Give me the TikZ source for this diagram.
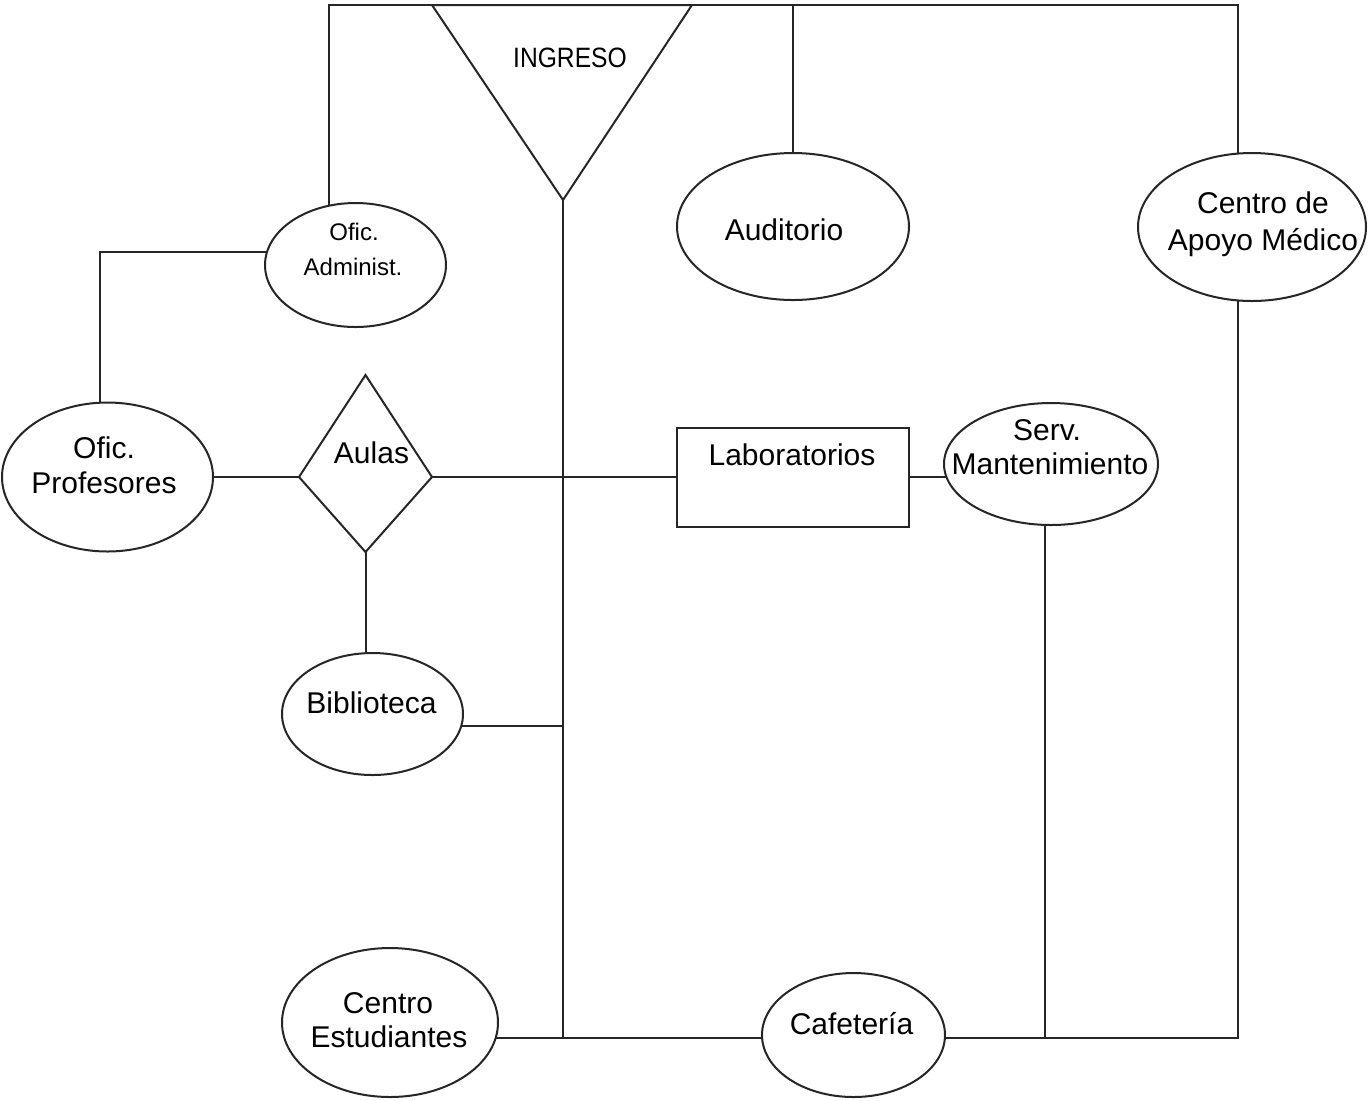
\documentclass[tikz,border=0pt]{standalone}
\usepackage{fontspec}
\setmainfont{Liberation Sans}
\usetikzlibrary{shapes.geometric}
\pgfdeclarelayer{background}
\pgfsetlayers{background,main}

\begin{document}
\begin{tikzpicture}[x=0.5pt,y=-0.5pt,
  lc/.style={draw=black!85, line width=1pt},
  blob/.style={lc, ellipse, fill=white, inner sep=0pt},
  lbl/.style={inner sep=0pt, anchor=base, text=black, font=\fontsize{15}{18}\selectfont},
  small/.style={lbl, font=\fontsize{12}{14}\selectfont}]

\useasboundingbox (0,0) rectangle (1371,1100);

% corners and junctions of the frame
\coordinate (tl) at (329,5);
\coordinate (tr) at (1238,5);
\coordinate (br) at (1238,1038);
\coordinate (cb) at (563,1038);
\coordinate (bj) at (563,726);
\coordinate (sv) at (1045,1038);
\coordinate (pj) at (100,252);

% entrance triangle
\coordinate (ing-l) at (432,5);
\coordinate (ing-r) at (692,5);
\coordinate (ing-a) at (563,200);
\draw[lc, fill=white] (ing-l) -- (ing-r) -- (ing-a) -- cycle;
\node[lbl, font=\fontsize{14}{16}\selectfont, xscale=0.88] (ing-t) at (570,67) {INGRESO};

% areas
\node[blob, minimum width=90.5pt, minimum height=62pt] (adm) at (355.5,265) {};
\node[small] (adm-t1) at (354,240) {Ofic.};
\node[small] (adm-t2) at (353,275) {Administ.};

\node[blob, minimum width=116pt, minimum height=73.5pt] (aud) at (793,226.5) {};
\node[lbl] (aud-t) at (784,240) {Auditorio};

\node[blob, minimum width=114pt, minimum height=74pt] (med) at (1252,227) {};
\node[lbl] (med-t1) at (1263,213) {Centro de};
\node[lbl] (med-t2) at (1263,250) {Apoyo Médico};

\node[blob, minimum width=105.5pt, minimum height=74.5pt] (prof) at (107.5,477) {};
\node[lbl] (prof-t1) at (104,458) {Ofic.};
\node[lbl] (prof-t2) at (104,493) {Profesores};

% classrooms: a kite with its side corners above the middle
\coordinate (au-t) at (365.5,375);
\coordinate (au-l) at (299,477);
\coordinate (au-r) at (432,477);
\coordinate (au-b) at (365.5,552);
\draw[lc, fill=white, line join=miter] (au-t) -- (au-r) -- (au-b) -- (au-l) -- cycle;
\node[lbl] (aulas-t) at (371.5,463) {Aulas};

\node[lc, rectangle, fill=white, inner sep=0pt, minimum width=116pt, minimum height=49.5pt] (lab) at (793,477) {};
\node[lbl] (lab-t) at (792,465) {Laboratorios};

\node[blob, minimum width=107pt, minimum height=61pt] (serv) at (1051,464) {};
\node[lbl] (serv-t1) at (1047,440) {Serv.};
\node[lbl] (serv-t2) at (1050,474) {Mantenimiento};

\node[blob, minimum width=90.5pt, minimum height=61pt] (bib) at (372.5,714) {};
\node[lbl] (bib-t) at (371.5,713) {Biblioteca};

\node[blob, minimum width=108pt, minimum height=74.5pt] (ce) at (390,1022.5) {};
\node[lbl] (ce-t1) at (388,1013) {Centro};
\node[lbl] (ce-t2) at (389,1047) {Estudiantes};

\node[blob, minimum width=91.5pt, minimum height=62pt] (caf) at (853.5,1035) {};
\node[lbl] (caf-t) at (851.5,1034) {Cafetería};

% corridors, drawn behind the areas
\begin{pgfonlayer}{background}
  \draw[lc] (tl |- adm.center) -- (tl) -- (tr) -- (tr |- med.center);
  \draw[lc] (aud.center |- tl) -- (aud.center);
  \draw[lc] (tr |- med.center) -- (br) -- (caf.center |- br);
  \draw[lc] (sv |- serv.center) -- (sv);
  \draw[lc] (ing-a) -- (cb);
  \draw[lc] (ce.center |- cb) -- (caf.center |- cb);
  \draw[lc] (bib.center |- bj) -- (bj);
  \draw[lc] (prof.center) -- (au-l);
  \draw[lc] (au-r) -- (lab.center) -- (lab.center -| serv.center);
  \draw[lc] (au-b) -- (au-b |- bib.center);
  \draw[lc] (pj |- prof.center) -- (pj) -- (pj -| adm.center);
\end{pgfonlayer}

\end{tikzpicture}
\end{document}
